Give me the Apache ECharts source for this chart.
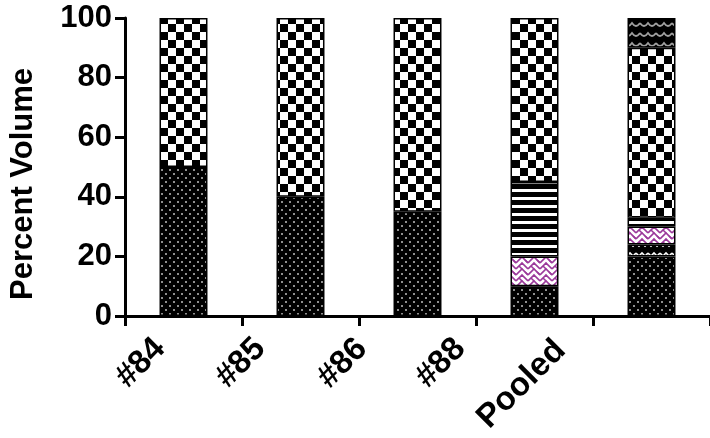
<!DOCTYPE html>
<html>
<head>
<meta charset="utf-8">
<script src="https://cdn.jsdelivr.net/npm/echarts@6/dist/echarts.min.js"></script>
<style>html,body{margin:0;padding:0;background:#fff;}#c{width:710px;height:438px;}</style>
</head>
<body>
<div id="c"></div>
<script>
const categories = ['#84', '#85', '#86', '#88', 'Pooled'];
const dotted      = [50, 40, 35, 10, 20];
const whiteWave   = [null, null, null, null, 4];
const purpleWeave = [null, null, null, 10, 6];
const stripes     = [null, null, null, 25, 3];
const checker     = [50, 60, 65, 55, 57];
const blackWave   = [null, null, null, null, 10];
const yMin = 0, yMax = 100, yStep = 20;
const yName = 'Percent Volume';

function tile(w, h, draw) {
  const c = document.createElement('canvas');
  c.width = w; c.height = h;
  const g = c.getContext('2d');
  draw(g, w, h);
  return { image: c, repeat: 'repeat' };
}
const pDotted = tile(8, 8, (g) => {
  g.fillStyle = '#000'; g.fillRect(0, 0, 8, 8);
  g.fillStyle = '#8f8f8f';
  g.fillRect(1, 1, 2, 2); g.fillRect(5, 5, 2, 2);
});
const pChecker = tile(16, 16, (g) => {
  g.fillStyle = '#fff'; g.fillRect(0, 0, 16, 16);
  g.fillStyle = '#000'; g.fillRect(0, 0, 8, 8); g.fillRect(8, 8, 8, 8);
});
const pStripes = tile(8, 8, (g) => {
  g.fillStyle = '#fff'; g.fillRect(0, 0, 8, 8);
  g.fillStyle = '#000'; g.fillRect(0, 0, 8, 5);
});
const pPurple = tile(12, 12, (g) => {
  g.fillStyle = '#fff'; g.fillRect(0, 0, 12, 12);
  g.strokeStyle = '#9b3a9b'; g.lineWidth = 1.6;
  for (let r = -1; r < 3; r++) {
    const y = r * 6;
    g.beginPath();
    g.moveTo(0, y + 5); g.lineTo(6, y - 1); g.lineTo(12, y + 5);
    g.stroke();
  }
  g.beginPath(); g.moveTo(3, 2); g.lineTo(6, 5); g.stroke();
  g.beginPath(); g.moveTo(9, 8); g.lineTo(12, 11); g.stroke();
});
const pWhiteWave = tile(12, 10, (g) => {
  g.fillStyle = '#000'; g.fillRect(0, 0, 12, 10);
  g.strokeStyle = '#fff'; g.lineWidth = 1.6;
  g.beginPath(); g.moveTo(0, 3); g.lineTo(3, 6); g.lineTo(6, 3); g.lineTo(9, 6); g.lineTo(12, 3); g.stroke();
});
const pBlackWave = tile(16, 10, (g) => {
  g.fillStyle = '#000'; g.fillRect(0, 0, 16, 10);
  g.strokeStyle = '#a0a0a0'; g.lineWidth = 1.8;
  g.beginPath(); g.moveTo(0, 3);
  g.quadraticCurveTo(4, 9, 8, 3); g.quadraticCurveTo(12, 9, 16, 3); g.stroke();
});

const font = 'Liberation Sans, Arial, sans-serif';
const labelPads = [[0, 31, 4, 0], [0, 43, 28, 0], [0, 54, 49, 0], [0, 67, 76, 0], [0, 80, 97, 0]];
const rich = {};
labelPads.forEach((p, i) => {
  rich['l' + i] = { padding: p, fontSize: 33, fontWeight: 'bold', color: '#000', fontFamily: font };
});

function barSeries(name, data, pattern) {
  return {
    name: name, type: 'bar', stack: 'v', data: data, barWidth: '41%',
    itemStyle: { color: pattern, borderColor: '#000', borderWidth: 1.5 },
    emphasis: { disabled: true }
  };
}

const chart = echarts.init(document.getElementById('c'), null, { renderer: 'canvas' });
chart.setOption({
  animation: false,
  backgroundColor: '#fff',
  grid: { left: 125, right: 0, top: 18, bottom: 122, containLabel: false },
  xAxis: {
    type: 'category', data: categories, boundaryGap: true,
    axisLine: { lineStyle: { color: '#000', width: 3 } },
    axisTick: { show: true, length: 10, lineStyle: { color: '#000', width: 3 } },
    axisLabel: {
      rotate: 45, margin: 7, interval: 0,
      fontSize: 33, fontWeight: 'bold', color: '#000', fontFamily: font,
      formatter: (v, i) => '{l' + i + '|' + v + '}',
      rich: rich
    }
  },
  yAxis: {
    type: 'value', min: yMin, max: yMax, interval: yStep,
    name: yName, nameLocation: 'middle', nameGap: 86, nameRotate: 90,
    nameTextStyle: { fontSize: 31, fontWeight: 'bold', color: '#000', fontFamily: font, padding: [0, 34, 0, 0] },
    axisLine: { show: true, lineStyle: { color: '#000', width: 3 } },
    axisTick: { show: true, length: 10, lineStyle: { color: '#000', width: 3 } },
    splitLine: { show: false },
    axisLabel: { margin: 13, fontSize: 31, fontWeight: 'bold', color: '#000', fontFamily: font }
  },
  series: [
    barSeries('dotted', dotted, pDotted),
    barSeries('whiteWave', whiteWave, pWhiteWave),
    barSeries('purpleWeave', purpleWeave, pPurple),
    barSeries('stripes', stripes, pStripes),
    barSeries('checker', checker, pChecker),
    barSeries('blackWave', blackWave, pBlackWave)
  ]
});
</script>
</body>
</html>
